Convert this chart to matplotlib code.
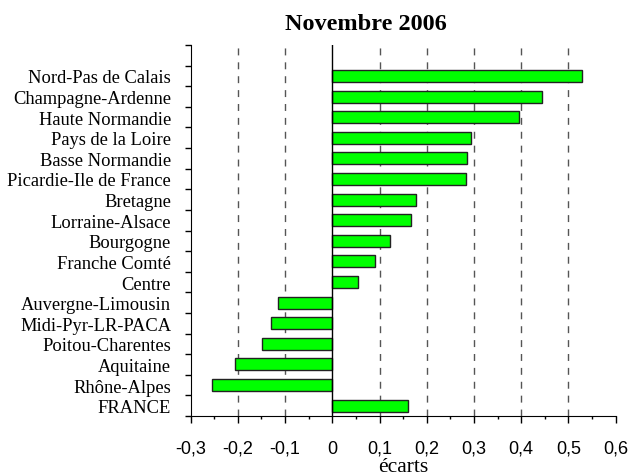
import matplotlib
matplotlib.use("Agg")
import matplotlib.pyplot as plt
import numpy as np
from matplotlib.ticker import MultipleLocator, FixedLocator, FuncFormatter

regions = ["FRANCE", "Rhône-Alpes", "Aquitaine", "Poitou-Charentes", "Midi-Pyr-LR-PACA",
           "Auvergne-Limousin", "Centre", "Franche Comté", "Bourgogne", "Lorraine-Alsace",
           "Bretagne", "Picardie-Ile de France", "Basse Normandie", "Pays de la Loire",
           "Haute Normandie", "Champagne-Ardenne", "Nord-Pas de Calais"]
ecarts = [0.160, -0.254, -0.205, -0.149, -0.130, -0.116, 0.054, 0.090, 0.123, 0.166,
          0.177, 0.283, 0.285, 0.293, 0.396, 0.445, 0.529]
xticks = [-0.3, -0.2, -0.1, 0, 0.1, 0.2, 0.3, 0.4, 0.5, 0.6]
title = "Novembre 2006"
xlabel = "écarts"

fig = plt.figure(figsize=(6.3, 4.77), dpi=100)
ax = fig.add_axes([190.6/630, 1-417/477, (615.7-190.6)/630, (417-46)/477])

y = np.arange(len(regions))
ax.barh(y, ecarts, height=0.58, color="#00ff00", edgecolor="#222222", linewidth=1.0, zorder=3)

ax.set_xlim(-0.3, 0.6)
ax.set_ylim(-0.5, len(regions) + 0.5)

for xv in xticks:
    if xv in (-0.3, 0.6):
        continue
    if xv == 0:
        ax.axvline(0, color="black", linewidth=1.0, zorder=4)
    else:
        ax.axvline(xv, color="#555555", linewidth=1.0, linestyle=(0, (5, 5)), zorder=1)

ax.spines["top"].set_visible(False)
ax.spines["right"].set_visible(False)

ax.xaxis.set_major_locator(FixedLocator(xticks))
ax.xaxis.set_minor_locator(MultipleLocator(0.05))
ax.xaxis.set_major_formatter(FuncFormatter(lambda v, p: ("%g" % round(v, 2)).replace(".", ",")))
ax.tick_params(axis="x", which="major", direction="out", length=5, width=1, pad=12,
               labelsize=13)
ax.tick_params(axis="x", which="minor", direction="out", length=2.5, width=1)
for lab in ax.get_xticklabels():
    lab.set_fontfamily("Liberation Sans")

ax.set_yticks(y)
ax.set_yticklabels(regions, fontfamily="Liberation Serif", fontsize=13.3)
ax.yaxis.set_minor_locator(FixedLocator(np.arange(-0.5, len(regions) + 1, 1)))
ax.tick_params(axis="y", which="major", length=0, pad=14)
ax.tick_params(axis="y", which="minor", direction="out", length=4.5, width=1)

ax.set_xlabel(xlabel, fontfamily="Liberation Serif", fontsize=15.5, labelpad=0)
fig.text(365.5/630, 1-25/477, title, fontfamily="Liberation Serif", fontweight="bold",
         fontsize=17.5, ha="center", va="center")

fig.savefig("out.png", dpi=100)
